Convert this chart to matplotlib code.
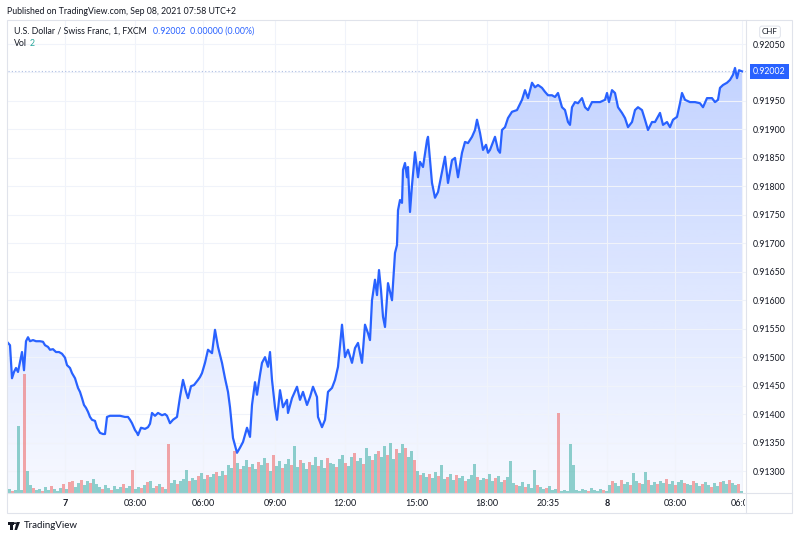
import numpy as np
import matplotlib.pyplot as plt
import matplotlib.transforms as mtransforms
from matplotlib.colors import LinearSegmentedColormap
from matplotlib.patches import Polygon, Rectangle
from matplotlib.lines import Line2D

plt.rcParams['font.family'] = ['Lato', 'DejaVu Sans']

# USD/CHF 1-minute closes (x = bar position on the compressed time axis)
bar_idx = [0, 2, 4, 6, 8, 10, 12, 14, 16, 18,
           20, 22, 25, 28, 32, 35, 37, 40, 42, 45,
           48, 51, 54, 57, 59, 62, 64, 67, 70, 72,
           74, 76, 78, 80, 82, 84, 87, 89, 92, 95,
           97, 99, 102, 107, 112, 117, 120, 122, 124, 127,
           129, 130, 133, 137, 140, 142, 144, 147, 150, 154,
           157, 159, 162, 165, 169, 172, 175, 178, 180, 183,
           186, 190, 192, 194, 197, 200, 204, 207, 210, 214,
           217, 220, 222, 225, 229, 232, 235, 239, 242, 244,
           247, 249, 252, 254, 257, 260, 262, 264, 267, 269,
           272, 275, 279, 280, 284, 289, 292, 295, 299, 302,
           305, 309, 310, 314, 317, 320, 324, 327, 330, 334,
           337, 340, 344, 347, 350, 354, 357, 360, 362, 364,
           367, 369, 371, 373, 375, 377, 380, 384, 387, 389,
           390, 392, 394, 395, 397, 399, 400, 402, 404, 407,
           410, 412, 415, 419, 420, 422, 424, 427, 430, 434,
           437, 440, 444, 447, 450, 454, 457, 460, 464, 467,
           469, 472, 475, 478, 480, 482, 487, 490, 492, 494,
           497, 500, 504, 509, 514, 517, 520, 524, 527, 530,
           534, 537, 540, 544, 547, 550, 554, 557, 560, 562,
           564, 567, 570, 574, 577, 580, 584, 587, 592, 597,
           599, 601, 604, 607, 610, 614, 617, 620, 624, 627,
           630, 634, 637, 640, 644, 647, 652, 655, 659, 662,
           665, 669, 672, 674, 677, 682, 687, 692, 695, 699,
           704, 707, 710, 712, 715, 719, 722, 725, 727, 729,
           731, 734]
close = [.91525, .91521, .91463, .91474, .91481, .91474, .91492, .91509, .91477, .91528,
         .91535, .91528, .91530, .91528, .91528, .91527, .91521, .91518, .91513, .91514,
         .91509, .91509, .91506, .91499, .91486, .91481, .91472, .91463, .91446, .91439,
         .91428, .91416, .91411, .91404, .91395, .91390, .91388, .91376, .91367, .91365,
         .91365, .91395, .91397, .91397, .91397, .91395, .91395, .91390, .91384, .91372,
         .91367, .91363, .91376, .91374, .91377, .91383, .91402, .91397, .91402, .91398,
         .91400, .91397, .91384, .91390, .91395, .91430, .91460, .91439, .91428, .91449,
         .91451, .91460, .91465, .91472, .91490, .91513, .91507, .91548, .91518, .91490,
         .91463, .91439, .91412, .91358, .91332, .91341, .91351, .91376, .91360, .91416,
         .91456, .91434, .91469, .91490, .91500, .91483, .91509, .91460, .91412, .91390,
         .91442, .91412, .91425, .91402, .91428, .91448, .91425, .91439, .91416, .91430,
         .91448, .91430, .91395, .91377, .91390, .91439, .91446, .91460, .91483, .91557,
         .91500, .91513, .91490, .91516, .91525, .91490, .91557, .91542, .91530, .91600,
         .91636, .91609, .91653, .91618, .91571, .91553, .91630, .91600, .91683, .91697,
         .91758, .91776, .91771, .91829, .91841, .91816, .91834, .91755, .91802, .91860,
         .91816, .91843, .91834, .91881, .91887, .91846, .91806, .91780, .91790, .91825,
         .91852, .91806, .91846, .91850, .91816, .91859, .91878, .91876, .91887, .91899,
         .91917, .91894, .91864, .91873, .91859, .91864, .91887, .91864, .91859, .91899,
         .91904, .91920, .91931, .91934, .91952, .91969, .91955, .91982, .91974, .91978,
         .91973, .91966, .91960, .91960, .91957, .91964, .91939, .91934, .91913, .91908,
         .91939, .91948, .91946, .91955, .91939, .91934, .91948, .91948, .91948, .91952,
         .91964, .91948, .91969, .91964, .91939, .91929, .91920, .91904, .91913, .91934,
         .91939, .91934, .91917, .91899, .91913, .91913, .91929, .91908, .91913, .91904,
         .91917, .91922, .91946, .91964, .91952, .91948, .91948, .91946, .91939, .91955,
         .91955, .91948, .91952, .91973, .91978, .91982, .91987, .91996, .92008, .91990,
         .92004, .92002]

# volume per 3-bar bucket, sign = candle direction (+ up, - down)
volume = [4, -2, 3, 67, 3, -119, 22, 8, -5, 3,
          4, -2, 6, 3, -7, 4, 2, 5, -9, 4,
          -11, -12, 6, 10, -13, 8, 12, -10, 14, 9,
          6, -4, 8, 5, -3, 7, 4, 6, -9, 5,
          7, -23, 4, 6, -5, 8, -11, 12, 5, -7,
          9, -6, 4, -49, 10, 13, -9, 12, 14, 23,
          -12, 15, 13, -17, 20, 14, -18, 16, 19, -21,
          17, 22, -18, 28, 25, -42, 30, -24, 27, 33,
          -26, 29, 24, -31, 28, 35, -30, 22, -38, 27,
          32, -25, 29, 34, -28, 47, 26, -33, 30, 24,
          -31, 28, 36, -27, 33, 25, -35, 30, 29, -26,
          34, 38, -30, 27, 36, -40, 32, 35, -29, 45,
          37, -33, 39, -42, 36, 47, -38, 50, 34, -44,
          40, 49, -45, 36, 42, -33, 22, -18, 20, 16,
          -19, 15, 21, -17, 28, 14, -16, 19, 13, -18,
          15, 17, -12, 14, 18, 29, -16, 13, 15, -14,
          19, 12, -15, 17, 11, -13, 16, 32, 10, -8,
          7, 11, -6, 9, 5, 23, -8, 6, 4, -5,
          7, 3, 4, -80, 2, 3, 2, 49, 28, 3,
          2, 4, 3, -2, 5, 3, 2, 4, -3, 2,
          8, -12, 10, 7, -13, 9, 11, -8, 20, 12,
          -10, 9, 21, -13, 8, 11, -9, 12, 10, -14,
          9, 12, -8, 11, 13, -10, 9, 8, -12, 10,
          7, -9, 11, 8, -6, 10, 7, -11, 12, 9,
          -13, 10, 8, -9, 2]
vol_step = 3

time_pos = [57, 127, 195, 267, 337, 409, 479, 540, 599, 667, 734]
time_lab = ['7', '03:00', '06:00', '09:00', '12:00', '15:00', '18:00',
            '20:35', '8', '03:00', '06:00']
price_ticks = [0.9130, 0.9135, 0.9140, 0.9145, 0.9150, 0.9155, 0.9160, 0.9165,
               0.9170, 0.9175, 0.9180, 0.9185, 0.9190, 0.9195, 0.9200, 0.9205]
last_price = 0.92002

BLUE = '#2962ff'
TXT = '#131722'
BORDER = '#e0e3eb'
W, H = 800, 539

fig = plt.figure(figsize=(W / 100, H / 100), dpi=100)
rect = [8 / W, 1 - 493 / H, 738 / W, 473 / H]
ylo, yhi = 0.912614, 0.920922

ax = fig.add_axes(rect)
vax = fig.add_axes(rect, zorder=ax.zorder + 1)
vax.patch.set_alpha(0)

x = np.array(bar_idx, dtype=float)
y = np.array(close)

# gradient area under the line
poly = Polygon(np.column_stack([np.r_[x[0], x, x[-1]], np.r_[ylo, y, ylo]]),
               closed=True, fc='none', ec='none')
ax.add_patch(poly)
cmap = LinearSegmentedColormap.from_list(
    'area', [(41 / 255, 98 / 255, 1, 0.04), (41 / 255, 98 / 255, 1, 0.28)])
im = ax.imshow(np.linspace(0, 1, 256).reshape(-1, 1), aspect='auto', cmap=cmap,
               extent=[x[0], x[-1], ylo, y.max()], origin='lower', zorder=1)
im.set_clip_path(poly)

ax.plot(x, y, color=BLUE, lw=1.6, zorder=3, solid_joinstyle='round')
ax.axhline(last_price, color='#8ea4d8', alpha=0.7, lw=0.8, ls=(0, (1, 2)), zorder=2)

ax.set_xlim(0, 738)
ax.set_ylim(ylo, yhi)
ax.set_xticks(time_pos)
ax.set_xticklabels([])
ax.set_yticks(price_ticks)
ax.yaxis.tick_right()
ax.set_yticklabels(['' if abs(p - 0.92) < 1e-7 else f'{p:.5f}' for p in price_ticks],
                   fontsize=6.3, color=TXT)
ax.tick_params(axis='both', length=0)
ax.tick_params(axis='y', pad=5)
ax.grid(True, color='#f0f3fa', lw=0.8, zorder=0)
for s in ax.spines.values():
    s.set_visible(False)

# volume bars
vx = np.arange(len(volume)) * vol_step + vol_step / 2
vh = np.abs(volume)
vcol = [(38 / 255, 166 / 255, 154 / 255, 0.5) if v > 0 else (239 / 255, 83 / 255, 80 / 255, 0.5)
        for v in volume]
vax.bar(vx, vh, width=vol_step, color=vcol, linewidth=0, antialiased=False)
vax.set_xlim(0, 738)
vax.set_ylim(0, 473)
vax.axis('off')

# time labels under the pane, last one clipped by the price scale
clip = Rectangle((0, 0), 745, H, transform=mtransforms.IdentityTransform())
tr = mtransforms.blended_transform_factory(ax.transData, fig.transFigure)
for p, lab in zip(time_pos, time_lab):
    t = ax.text(p, 1 - 503 / H, lab, transform=tr, ha='center', va='center',
                fontsize=6.5, color=TXT, fontweight='bold' if len(lab) == 1 else 'normal',
                clip_on=True)
    t.set_clip_path(clip)

# last price label
ax.text(1 + 7 / 738, last_price, '0.92002',
        transform=mtransforms.blended_transform_factory(ax.transAxes, ax.transData),
        ha='left', va='center', fontsize=6.3, color='white', clip_on=False, zorder=5,
        bbox=dict(boxstyle='square,pad=0.35', fc=BLUE, ec='none'))


def fx(px):
    return px / W


def fy(py):
    return 1 - py / H


# frame and separators
fig.add_artist(Rectangle((fx(7), fy(513)), 785 / W, 493 / H, transform=fig.transFigure,
                         fc='none', ec=BORDER, lw=0.8))
fig.add_artist(Line2D([fx(746), fx(746)], [fy(20), fy(513)], transform=fig.transFigure,
                      color=BORDER, lw=0.8))
fig.add_artist(Line2D([fx(7), fx(792)], [fy(493), fy(493)], transform=fig.transFigure,
                      color=BORDER, lw=0.8))

# header texts
fig.text(fx(7), fy(11), 'Published on TradingView.com, Sep 08, 2021 07:58 UTC+2',
         fontsize=6.3, color=TXT, va='center')
fig.text(fx(14), fy(31), 'U.S. Dollar / Swiss Franc, 1, FXCM', fontsize=6.3,
         color=TXT, va='center')
fig.text(fx(153), fy(31), '0.92002  0.00000 (0.00%)', fontsize=6.3, color=BLUE,
         va='center')
fig.text(fx(14), fy(44), 'Vol', fontsize=6.3, color=TXT, va='center')
fig.text(fx(30), fy(44), '2', fontsize=6.3, color='#26a69a', va='center')
fig.text(fx(770), fy(32), 'CHF', fontsize=5.8, color=TXT, va='center', ha='center',
         bbox=dict(boxstyle='round,pad=0.3,rounding_size=0.3', fc='white', ec=BORDER, lw=0.7))

# TradingView logo + name
logo = [
    [(8, 522), (14, 522), (14, 524.5), (12.5, 524.5), (12.5, 530), (10, 530), (10, 524.5), (8, 524.5)],
    [(16.5, 522), (20, 522), (17, 530), (14.5, 530)],
]
for shape in logo:
    fig.add_artist(Polygon([(fx(a), fy(b)) for a, b in shape], closed=True,
                           transform=fig.transFigure, fc=TXT, ec='none'))
fig.add_artist(plt.Circle((fx(15), fy(523.2)), 1.3 / W, transform=fig.transFigure,
                          fc=TXT, ec='none'))
fig.text(fx(24), fy(526), 'TradingView', fontsize=7, color=TXT, va='center')

fig.savefig('out.png', dpi=100)
